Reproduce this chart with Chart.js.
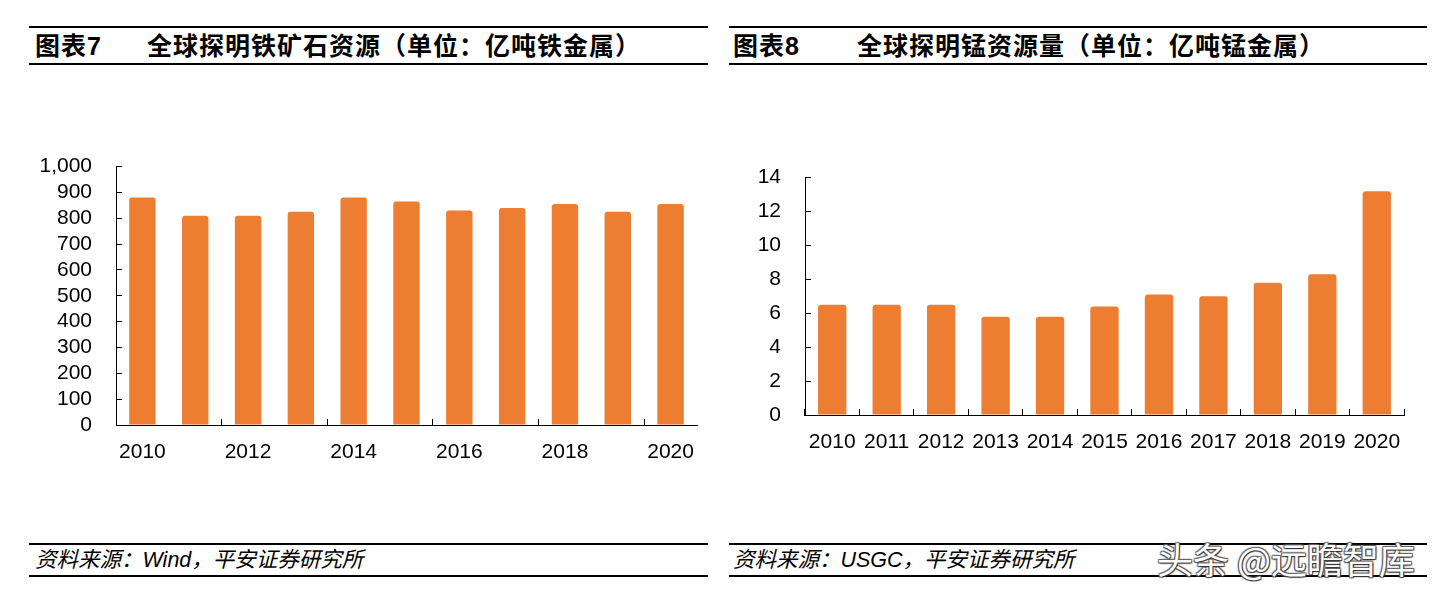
<!DOCTYPE html>
<html>
<head>
<meta charset="utf-8">
<style>
  html, body { margin: 0; padding: 0; background: #fff; }
  body { width: 1437px; height: 594px; position: relative; overflow: hidden;
         font-family: "Liberation Sans", "Noto Sans CJK SC", sans-serif; color: #000; }
  .rule { position: absolute; height: 2px; background: #000; }
  .title { position: absolute; top: 34px; font-size: 25px; line-height: 25px; font-weight: bold; letter-spacing: 1px; white-space: nowrap; }
  .source { position: absolute; top: 549px; font-size: 21.5px; line-height: 22px; font-style: italic; white-space: nowrap; }
  .box { position: absolute; }
  .mark { position: absolute; left: 1157px; top: 540px; font-size: 36px; line-height: 36px; color: #fff; white-space: nowrap;
          font-family: "Noto Sans CJK SC", sans-serif;
          text-shadow: 1px 1px 1px #333, -1px -1px 1px #666, 1px -1px 1px #555, -1px 1px 1px #555; }
</style>
<script src="https://cdn.jsdelivr.net/npm/chart.js"></script>
</head>
<body>
  <!-- left panel -->
  <div class="rule" style="left:29px; width:679px; top:26px;"></div>
  <div class="title" style="left:35px;">图表7</div>
  <div class="title" style="left:147px;">全球探明铁矿石资源（单位：亿吨铁金属）</div>
  <div class="rule" style="left:29px; width:679px; top:63px;"></div>
  <div class="box" style="left:30px; top:124px; width:680px; height:356px;"><canvas id="ironChart"></canvas></div>
  <div class="rule" style="left:29px; width:679px; top:543px;"></div>
  <div class="source" style="left:35px;">资料来源：Wind，平安证券研究所</div>
  <div class="rule" style="left:29px; width:679px; top:575px;"></div>

  <!-- right panel -->
  <div class="rule" style="left:729px; width:698px; top:26px;"></div>
  <div class="title" style="left:733px;">图表8</div>
  <div class="title" style="left:857px;">全球探明锰资源量（单位：亿吨锰金属）</div>
  <div class="rule" style="left:729px; width:698px; top:63px;"></div>
  <div class="box" style="left:720px; top:135px; width:700px; height:345px;"><canvas id="mnChart"></canvas></div>
  <div class="rule" style="left:729px; width:698px; top:543px;"></div>
  <div class="source" style="left:733px;">资料来源：USGC，平安证券研究所</div>
  <div class="rule" style="left:729px; width:698px; top:575px;"></div>
  <div class="mark">头条 @远瞻智库</div>

<script>
  // data
  const years = ['2010', '2011', '2012', '2013', '2014', '2015', '2016', '2017', '2018', '2019', '2020'];
  const ironOre = [880, 810, 810, 825, 880, 865, 830, 840, 855, 825, 855];
  const manganese = [6.5, 6.5, 6.5, 5.8, 5.8, 6.4, 7.1, 7.0, 7.8, 8.3, 13.2];

  const barColor = '#ED7D31';
  const tickFont = { family: '"Liberation Sans", Arial, sans-serif', size: 21 };

  function makeChart(id, values, opts) {
    const ctx = document.getElementById(id).getContext('2d');
    return new Chart(ctx, {
      type: 'bar',
      data: {
        labels: years,
        datasets: [{
          data: values,
          backgroundColor: barColor,
          borderWidth: 0,
          borderRadius: { topLeft: 3, topRight: 3 },
          borderSkipped: 'bottom',
          barPercentage: opts.barPct,
          categoryPercentage: 1
        }]
      },
      options: {
        responsive: true,
        maintainAspectRatio: false,
        animation: false,
        layout: { padding: opts.padding },
        plugins: { legend: { display: false }, tooltip: { enabled: false } },
        scales: {
          x: {
            offset: true,
            border: { color: '#000', width: 1 },
            grid: {
              offset: true,
              drawOnChartArea: false,
              tickLength: -6,
              color: opts.xTickColor,
              tickColor: opts.xTickColor
            },
            ticks: {
              autoSkip: false,
              maxRotation: 0,
              padding: 21,
              color: '#000',
              font: tickFont,
              callback: opts.xLabel
            },
            afterFit: s => {
              s.height = opts.xHeight;
              // labels fit inside the category slots, no side overflow needed
              s.paddingLeft = 0;
              s.paddingRight = 0;
            }
          },
          y: {
            min: 0,
            max: opts.max,
            border: { color: '#000', width: 1 },
            grid: { drawOnChartArea: false, tickLength: -6, color: '#000', tickColor: '#000' },
            ticks: { stepSize: opts.step, autoSkip: false, padding: 30, color: '#000', font: tickFont },
            afterFit: s => { s.width = opts.yWidth; }
          }
        }
      }
    });
  }

  // left: labels every other year, tick marks at every second boundary
  makeChart('ironChart', ironOre, {
    max: 1000, step: 100, barPct: 0.5,
    padding: { top: 0, right: 13, bottom: 0, left: 0 },
    xHeight: 55, yWidth: 86,
    xTickColor: c => (c.index % 2 === 0 && c.index < years.length) ? '#000' : 'rgba(0,0,0,0)',
    xLabel: function (v, i) { return i % 2 === 0 ? this.getLabelForValue(v) : ''; }
  });

  makeChart('mnChart', manganese, {
    max: 14, step: 2, barPct: 0.52,
    padding: { top: 0, right: 16, bottom: 0, left: 0 },
    xHeight: 65, yWidth: 85,
    xTickColor: '#000',
    xLabel: function (v) { return this.getLabelForValue(v); }
  });
</script>
</body>
</html>
